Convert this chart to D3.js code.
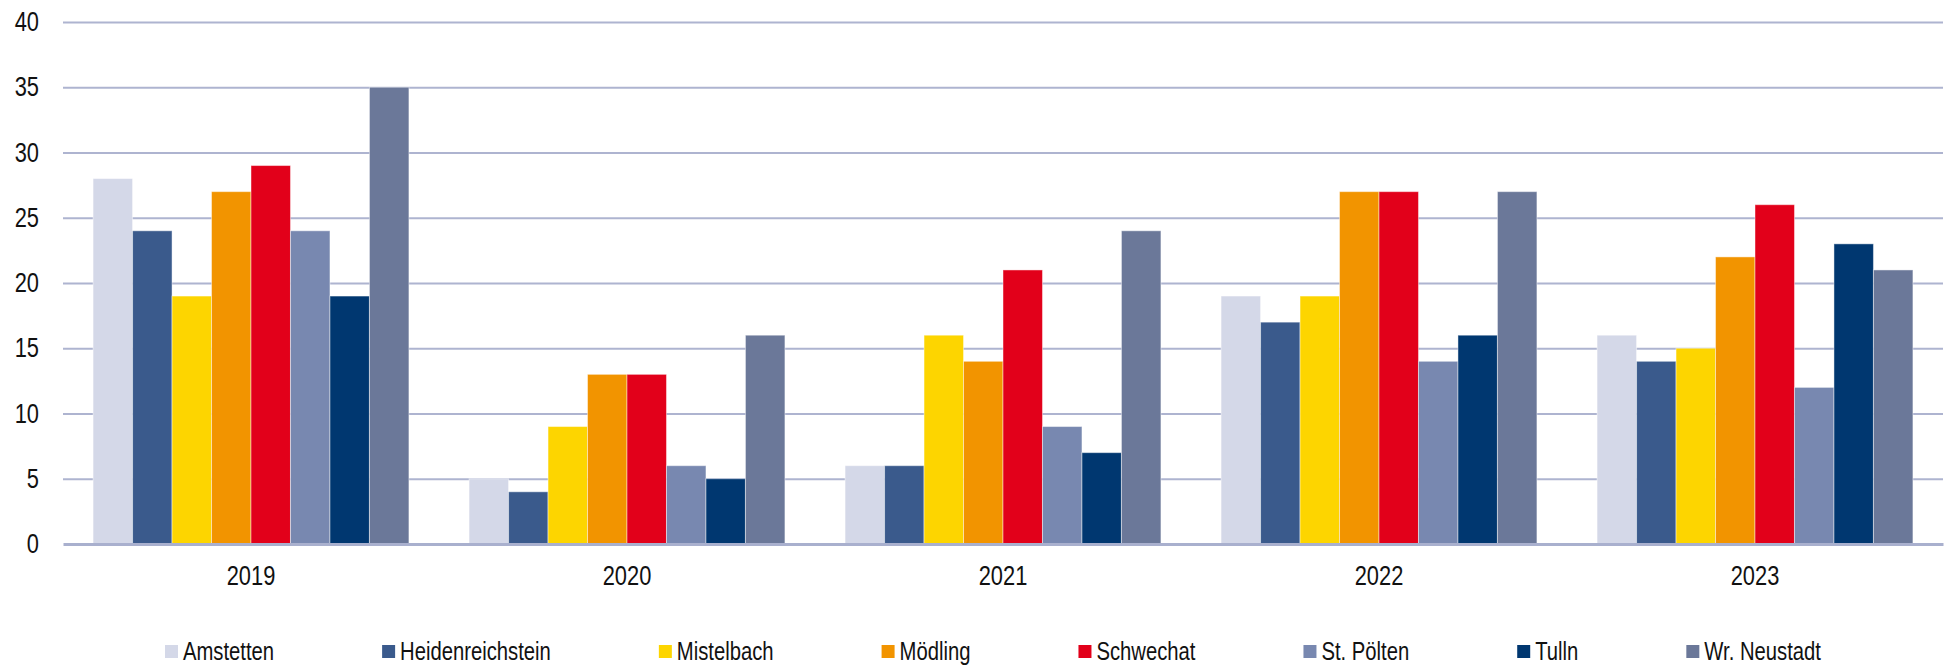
<!DOCTYPE html>
<html>
<head>
<meta charset="utf-8">
<script src="https://cdn.jsdelivr.net/npm/d3@7"></script>
<style>
  html, body { margin: 0; padding: 0; background: #ffffff; }
  svg text { font-family: "Liberation Sans", Arial, sans-serif; fill: #111111; }
</style>
</head>
<body>
<div id="chart"></div>
<script>
const years = ["2019", "2020", "2021", "2022", "2023"];
const regions = ["Amstetten", "Heidenreichstein", "Mistelbach", "Mödling", "Schwechat", "St. Pölten", "Tulln", "Wr. Neustadt"];
const regionColors = ["#D4D8E8", "#3A5A8C", "#FDD500", "#F29400", "#E2001A", "#7888B0", "#003770", "#6B7899"];

// one array per region, values for 2019..2023
const amstetten        = [28, 5, 6, 19, 16];
const heidenreichstein = [24, 4, 6, 17, 14];
const mistelbach       = [19, 9, 16, 19, 15];
const moedling         = [27, 13, 14, 27, 22];
const schwechat        = [29, 13, 21, 27, 26];
const stPoelten        = [24, 6, 9, 14, 12];
const tulln            = [19, 5, 7, 16, 23];
const wrNeustadt       = [35, 16, 24, 27, 21];

const yTicks = [0, 5, 10, 15, 20, 25, 30, 35, 40];

const series = [amstetten, heidenreichstein, mistelbach, moedling, schwechat, stPoelten, tulln, wrNeustadt];

// no narrow font installed, so squeeze Liberation Sans horizontally
const NARROW = 0.81;

const W = 1953, H = 667;
const margin = { top: 22, right: 10, bottom: 123, left: 63 };
const width = W - margin.left - margin.right;
const height = H - margin.top - margin.bottom;

const svg = d3.select("#chart").append("svg")
    .attr("width", W)
    .attr("height", H);

const g = svg.append("g")
    .attr("transform", `translate(${margin.left},${margin.top})`);

// Scales
const x0 = d3.scaleBand()
    .domain(years)
    .range([0, width])
    .paddingInner(0.16)
    .paddingOuter(0.08);

const x1 = d3.scaleBand()
    .domain(regions)
    .range([0, x0.bandwidth()])
    .padding(0);

const y = d3.scaleLinear()
    .domain([0, 40])
    .range([height, 0]);

// Grid lines
g.append("g")
    .call(d3.axisLeft(y).tickValues(yTicks.slice(1)).tickSize(-width).tickFormat(""))
    .call(ax => ax.select(".domain").remove())
    .selectAll("line")
    .attr("stroke", "#AEB4D0")
    .attr("stroke-width", 2);

// Y axis labels
g.append("g")
    .call(d3.axisLeft(y).tickValues(yTicks).tickSize(0).tickPadding(24))
    .call(ax => ax.select(".domain").remove())
    .selectAll("text")
    .style("font-size", "27px")
    .attr("fill", "#111111")
    .attr("x", -24 / NARROW)
    .attr("transform", `scale(${NARROW},1)`);

// Bars
const groups = g.selectAll(".year")
    .data(years)
    .enter().append("g")
    .attr("transform", d => `translate(${x0(d)},0)`);

groups.selectAll("rect")
    .data((yr, i) => regions.map((r, k) => ({ region: r, value: series[k][i], color: regionColors[k] })))
    .enter().append("rect")
    .attr("x", d => x1(d.region))
    .attr("y", d => y(d.value))
    .attr("width", x1.bandwidth())
    .attr("height", d => height - y(d.value))
    .attr("fill", d => d.color)
    .attr("stroke", "rgba(255,255,255,0.45)")
    .attr("stroke-width", 1);

// X axis
const xAxis = g.append("g")
    .attr("transform", `translate(0,${height})`)
    .call(d3.axisBottom(x0).tickSize(0).tickPadding(22));
xAxis.select(".domain")
    .attr("stroke", "#A9B0CE")
    .attr("stroke-width", 3);
xAxis.selectAll("text")
    .style("font-size", "27px")
    .attr("fill", "#111111")
    .attr("transform", `scale(${NARROW},1)`);

// Legend
const legend = svg.append("g")
    .attr("transform", `translate(165, 645)`);

let lx = 0;
regions.forEach((r, k) => {
    const item = legend.append("g").attr("transform", `translate(${lx},0)`);
    item.append("rect")
        .attr("width", 13)
        .attr("height", 13)
        .attr("fill", regionColors[k]);
    const t = item.append("text")
        .attr("x", 18 / NARROW)
        .attr("y", 15)
        .attr("transform", `scale(${NARROW},1)`)
        .style("font-size", "25px")
        .text(r);
    lx += 18 + t.node().getComputedTextLength() * NARROW + 108;
});
</script>
</body>
</html>
